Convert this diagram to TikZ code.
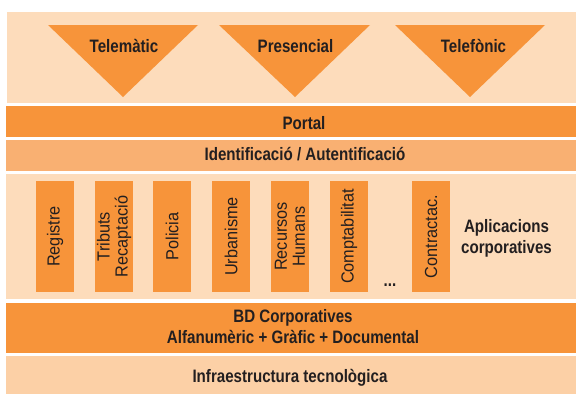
\documentclass[tikz,border=0pt]{standalone}
\usepackage{fontspec}
\setmainfont{Liberation Sans}
\newfontfamily\cnfont{Liberation Sans}[FakeStretch=0.84]
\newfontfamily\appfont{Liberation Sans}[FakeStretch=0.93]
\definecolor{peach}{RGB}{253,220,187}
\definecolor{naranja}{RGB}{247,148,58}
\definecolor{naranjaclar}{RGB}{249,176,114}
\definecolor{infra}{RGB}{252,208,166}
\definecolor{tinta}{RGB}{35,31,32}
\tikzset{
  etiq/.style={inner sep=0pt, text=tinta, align=center,
    font=\cnfont\bfseries\fontsize{18}{21}\selectfont},
  app/.style={rotate=90, fill=naranja, inner sep=0pt, minimum width=111pt,
    minimum height=38pt, text=tinta, align=center,
    font=\appfont\fontsize{17.5}{18}\selectfont}
}
\begin{document}
\begin{tikzpicture}[x=1pt,y=-1pt]
                \useasboundingbox (0,0) rectangle (576,394);
                % 帯の描画
                \fill[peach] (7,12) rectangle (576,103);
                \fill[naranja] (6,106) rectangle (576,137);
                \fill[naranjaclar] (6,140) rectangle (576,171);
                \fill[peach] (6,174) rectangle (576,299);
                \fill[naranja] (6,303) rectangle (576,353);
                \fill[infra] (6,356) rectangle (576,394);

                % 三角形
                \fill[naranja] (48,25) -- (198,25) -- (123,97) -- cycle;
                \fill[naranja] (219,25) -- (370,25) -- (295,97) -- cycle;
                \fill[naranja] (395,25) -- (545,25) -- (470,97) -- cycle;

                \node[etiq, anchor=base] at (124,52.3) (telematic) {Telemàtic};
                \node[etiq, anchor=base] at (295.5,52.3) (presencial) {Presencial};
                \node[etiq, anchor=base] at (473.5,52.3) (telefonic) {Telefònic};

                \node[etiq, anchor=base] at (304,129.5) (portal) {Portal};
                \node[etiq, anchor=base] at (305,160) (ident) {Identificació / Autentificació};

                % aplicacions
                \node[app] at (55,236.5) (registre) {Registre};
                \node[app] at (114,236.5) (tributs) {Tributs\\Recaptació};
                \node[app] at (172,236.5) (policia) {Policia};
                \node[app] at (231,236.5) (urbanisme) {Urbanisme};
                \node[app] at (290,236.5) (recursos) {Recursos\\Humans};
                \node[app] at (349,236.5) (compta) {Comptabilitat};
                \node[app] at (431,236.5) (contracta) {Contractac.};
                \node[etiq, anchor=base] at (390,286.5) (punts) {...};
                \node[etiq] at (506.5,238.2) (aplicacions) {Aplicacions\\corporatives};

                \node[etiq] at (293,326.3) (bd) {BD Corporatives\\Alfanumèric + Gràfic + Documental};
                \node[etiq, anchor=base] at (290,382) (infra) {Infraestructura tecnològica};
\end{tikzpicture}
\end{document}
